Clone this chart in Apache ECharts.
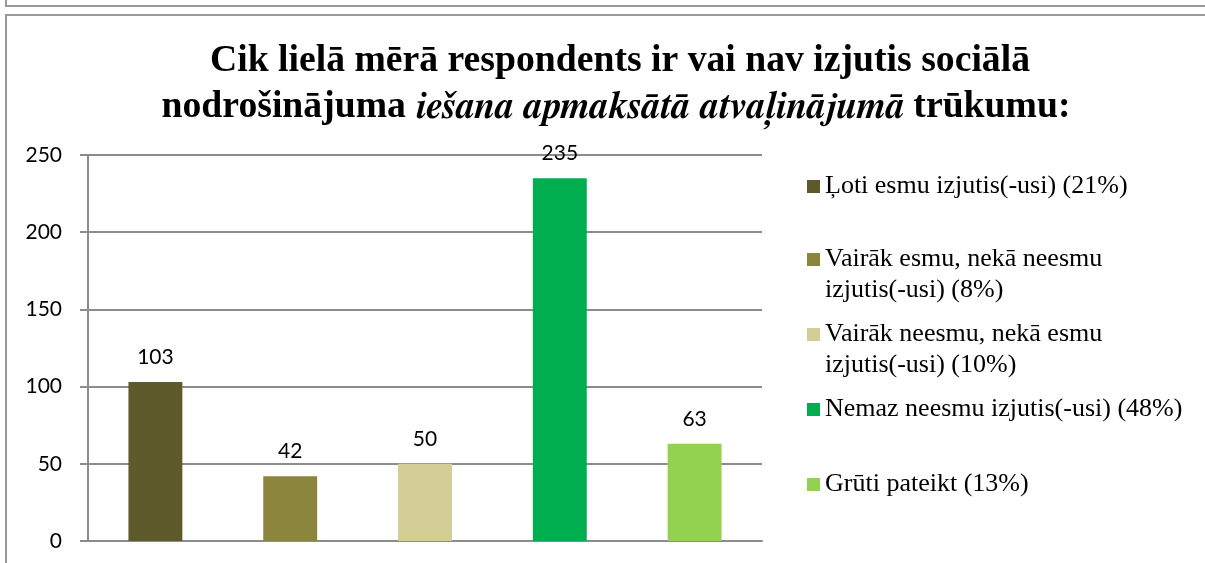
<!DOCTYPE html>
<html>
<head>
<meta charset="utf-8">
<script src="https://cdn.jsdelivr.net/npm/echarts@6/dist/echarts.min.js"></script>
<style>
  html, body { margin: 0; padding: 0; background: #fff; }
  #chart { width: 1205px; height: 563px; }
</style>
</head>
<body>
<div id="chart"></div>
<script>
// dati
const categories = [
  "Ļoti esmu izjutis(-usi) (21%)",
  "Vairāk esmu, nekā neesmu izjutis(-usi) (8%)",
  "Vairāk neesmu, nekā esmu izjutis(-usi) (10%)",
  "Nemaz neesmu izjutis(-usi) (48%)",
  "Grūti pateikt (13%)"
];
// legend text lines (wrapped as in the original)
const legendLines = [
  ["Ļoti esmu izjutis(-usi) (21%)"],
  ["Vairāk esmu, nekā neesmu", "izjutis(-usi) (8%)"],
  ["Vairāk neesmu, nekā esmu", "izjutis(-usi) (10%)"],
  ["Nemaz neesmu izjutis(-usi) (48%)"],
  ["Grūti pateikt (13%)"]
];
const values = [103, 42, 50, 235, 63];
const colors = ["#5e5a2b", "#8b853d", "#d3cd96", "#00ae4f", "#93d150"];
const yTicks = [0, 50, 100, 150, 200, 250];

const legendTops = [166, 208, 283, 389, 464];

let chart = echarts.init(document.getElementById("chart"));

const series = categories.map((name, i) => ({
  name: name,
  type: "bar",
  stack: "all",
  barWidth: "40%",
  itemStyle: { color: colors[i] },
  label: {
    show: true,
    position: "top",
    distance: 14,
    fontFamily: "Lato",
    fontSize: 21,
    color: "#000"
  },
  data: values.map((v, j) => (j === i ? v : null))
}));

// two-line entries get a blank first line so the marker sits on the first text line
const legends = categories.map((name, i) => ({
  data: [name],
  orient: "vertical",
  left: 802,
  top: legendTops[i],
  icon: "rect",
  itemWidth: 13,
  itemHeight: 13,
  selectedMode: false,
  formatter: () => (legendLines[i].length > 1 ? " \n" : "") + legendLines[i].join("\n"),
  textStyle: {
    fontFamily: "Liberation Serif",
    fontSize: 26,
    lineHeight: 31,
    color: "#000"
  }
}));

const titleFont = { fontFamily: "Liberation Serif", fontWeight: "bold", fontSize: 37.7, color: "#000" };
// bold italic face: FreeSerif (Times-like)
const titleItalic = { fontFamily: "FreeSerif", fontWeight: "bold", fontStyle: "italic", fontSize: 37.7, color: "#000" };

chart.setOption({
  animation: false,
  title: [
    {
      text: "Cik lielā mērā respondents ir vai nav izjutis sociālā",
      left: 615,
      textAlign: "center",
      top: 37,
      textStyle: titleFont
    },
    {
      text: "{b|nodrošinājuma }{i|iešana apmaksātā atvaļinājumā}{b| trūkumu:}",
      left: 611,
      textAlign: "center",
      top: 83,
      textStyle: Object.assign({}, titleFont, {
        rich: { b: titleFont, i: titleItalic }
      })
    }
  ],
  legend: legends,
  grid: { left: 88, right: 443, top: 155, bottom: 22 },
  xAxis: {
    type: "category",
    data: categories,
    axisLine: { lineStyle: { color: "#8c8c8c", width: 2 } },
    axisTick: { show: false },
    axisLabel: { show: false }
  },
  yAxis: {
    type: "value",
    min: yTicks[0],
    max: yTicks[yTicks.length - 1],
    interval: 50,
    axisLine: { show: true, lineStyle: { color: "#8c8c8c", width: 2 } },
    axisTick: { show: true, length: 8, lineStyle: { color: "#8c8c8c", width: 2 } },
    axisLabel: { fontFamily: "Lato", fontSize: 21, color: "#000", margin: 26 },
    splitLine: { lineStyle: { color: "#8c8c8c", width: 2 } }
  },
  graphic: [
    { type: "polyline", shape: { points: [[6, 0], [6, 6], [1205, 6]] }, style: { fill: null, stroke: "#999", lineWidth: 2 } },
    { type: "polyline", shape: { points: [[1205, 15], [6, 15], [6, 563]] }, style: { fill: null, stroke: "#999", lineWidth: 2 } }
  ],
  series: series
});
</script>
</body>
</html>
